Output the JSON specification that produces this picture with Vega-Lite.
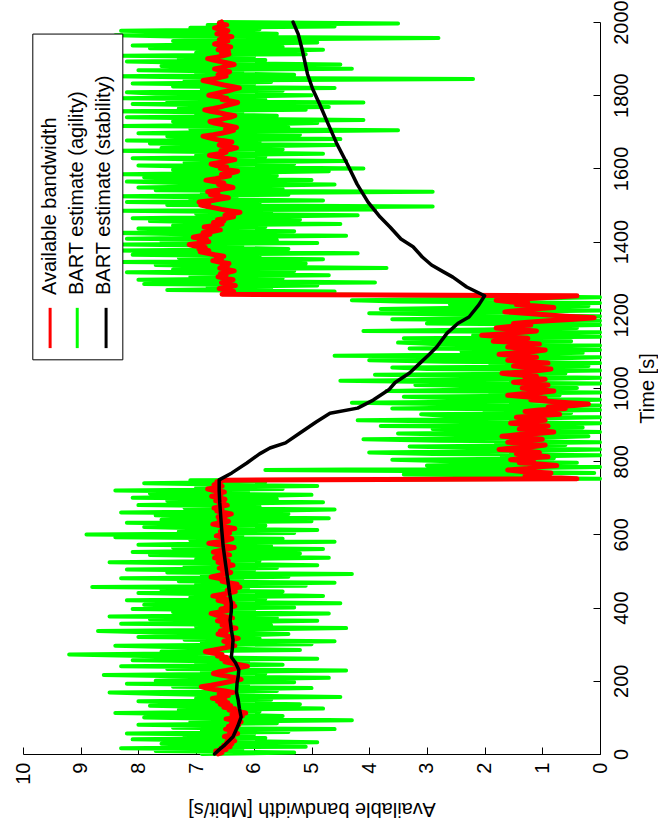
{
  "$schema": "https://vega.github.io/schema/vega-lite/v6.json",
  "width": 577,
  "height": 732,
  "autosize": {"type": "none"},
  "padding": {"left": 23, "top": 22, "right": 58, "bottom": 81},
  "config": {
    "view": {"stroke": null},
    "font": "Liberation Sans",
    "axis": {
      "grid": false,
      "domainColor": "#000000",
      "domainWidth": 1,
      "tickColor": "#000000",
      "tickWidth": 1,
      "labelColor": "#000000",
      "titleColor": "#000000",
      "labelFont": "Liberation Sans",
      "titleFont": "Liberation Sans",
      "labelFontSize": 20,
      "titleFontSize": 20,
      "titleFontWeight": "normal"
    }
  },
  "datasets": {
    "bw": [
      {"t":0,"r":6.62,"g":6.9},{"t":4,"r":6.55,"g":5.3},{"t":8,"r":6.66,"g":7.7},{"t":12,"r":6.48,"g":6.2},{"t":16,"r":6.57,"g":8.3},{"t":20,"r":6.41,"g":5.1},{"t":24,"r":6.52,"g":6.8},{"t":28,"r":6.38,"g":7.6},{"t":32,"r":6.47,"g":4.9},{"t":36,"r":6.33,"g":6.4},
      {"t":40,"r":6.45,"g":8.1},{"t":44,"r":6.36,"g":5.8},{"t":48,"r":6.51,"g":7.2},{"t":52,"r":6.4,"g":6.0},{"t":56,"r":6.28,"g":8.2},{"t":60,"r":6.42,"g":5.4},{"t":64,"r":6.35,"g":6.9},{"t":68,"r":6.49,"g":4.6},{"t":72,"r":6.3,"g":7.4},{"t":76,"r":6.44,"g":6.3},
      {"t":80,"r":6.26,"g":8.0},{"t":84,"r":6.39,"g":5.6},{"t":88,"r":6.22,"g":7.1},{"t":92,"r":6.36,"g":4.3},{"t":96,"r":6.48,"g":6.7},{"t":100,"r":6.31,"g":7.9},{"t":104,"r":6.2,"g":5.5},{"t":108,"r":6.38,"g":6.6},{"t":112,"r":6.14,"g":8.4},{"t":116,"r":6.29,"g":5.9},
      {"t":120,"r":6.43,"g":7.3},{"t":124,"r":6.33,"g":4.8},{"t":128,"r":6.52,"g":6.5},{"t":132,"r":6.4,"g":7.8},{"t":136,"r":6.58,"g":5.2},{"t":140,"r":6.45,"g":6.9},{"t":144,"r":6.63,"g":8.0},{"t":148,"r":6.5,"g":5.7},{"t":152,"r":6.72,"g":7.0},{"t":156,"r":6.56,"g":4.5},
      {"t":160,"r":6.44,"g":6.3},{"t":164,"r":6.6,"g":7.6},{"t":168,"r":6.36,"g":8.5},{"t":172,"r":6.5,"g":5.6},{"t":176,"r":6.68,"g":6.8},{"t":180,"r":6.82,"g":5.0},{"t":184,"r":6.91,"g":7.4},{"t":188,"r":6.74,"g":6.1},{"t":192,"r":6.6,"g":8.2},{"t":196,"r":6.47,"g":5.3},
      {"t":200,"r":6.35,"g":7.7},{"t":204,"r":6.22,"g":6.4},{"t":208,"r":6.3,"g":4.7},{"t":212,"r":6.44,"g":7.1},{"t":216,"r":6.58,"g":8.6},{"t":220,"r":6.7,"g":5.8},{"t":224,"r":6.62,"g":6.9},{"t":228,"r":6.48,"g":4.4},{"t":232,"r":6.36,"g":7.5},{"t":236,"r":6.24,"g":6.2},
      {"t":240,"r":6.11,"g":8.3},{"t":244,"r":6.25,"g":5.5},{"t":248,"r":6.38,"g":7.0},{"t":252,"r":6.5,"g":6.1},{"t":256,"r":6.42,"g":8.1},{"t":260,"r":6.56,"g":4.9},{"t":264,"r":6.47,"g":6.7},{"t":268,"r":6.63,"g":7.9},{"t":272,"r":6.55,"g":9.2},{"t":276,"r":6.72,"g":6.6},
      {"t":280,"r":6.84,"g":7.6},{"t":284,"r":6.69,"g":5.2},{"t":288,"r":6.57,"g":6.5},{"t":292,"r":6.44,"g":7.3},{"t":296,"r":6.33,"g":8.4},{"t":300,"r":6.46,"g":5.0},{"t":304,"r":6.38,"g":6.9},{"t":308,"r":6.52,"g":4.6},{"t":312,"r":6.4,"g":7.2},{"t":316,"r":6.27,"g":5.9},
      {"t":320,"r":6.39,"g":8.0},{"t":324,"r":6.51,"g":6.3},{"t":328,"r":6.62,"g":5.4},{"t":332,"r":6.48,"g":7.7},{"t":336,"r":6.58,"g":8.7},{"t":340,"r":6.42,"g":6.0},{"t":344,"r":6.31,"g":4.4},{"t":348,"r":6.45,"g":7.0},{"t":352,"r":6.55,"g":5.7},{"t":356,"r":6.41,"g":8.3},
      {"t":360,"r":6.5,"g":6.4},{"t":364,"r":6.63,"g":4.9},{"t":368,"r":6.49,"g":7.8},{"t":372,"r":6.37,"g":5.6},{"t":376,"r":6.52,"g":8.5},{"t":380,"r":6.66,"g":6.2},{"t":384,"r":6.74,"g":4.7},{"t":388,"r":6.59,"g":7.4},{"t":392,"r":6.45,"g":6.0},{"t":396,"r":6.57,"g":8.1},
      {"t":400,"r":6.43,"g":5.3},{"t":404,"r":6.33,"g":6.8},{"t":408,"r":6.48,"g":7.9},{"t":412,"r":6.36,"g":4.5},{"t":416,"r":6.51,"g":6.6},{"t":420,"r":6.62,"g":8.2},{"t":424,"r":6.47,"g":5.8},{"t":428,"r":6.58,"g":7.1},{"t":432,"r":6.71,"g":4.8},{"t":436,"r":6.56,"g":6.5},
      {"t":440,"r":6.44,"g":8.0},{"t":444,"r":6.32,"g":5.5},{"t":448,"r":6.46,"g":7.6},{"t":452,"r":6.37,"g":6.1},{"t":456,"r":6.24,"g":8.8},{"t":460,"r":6.38,"g":5.1},{"t":464,"r":6.29,"g":7.0},{"t":468,"r":6.43,"g":4.6},{"t":472,"r":6.55,"g":7.3},{"t":476,"r":6.46,"g":6.2},
      {"t":480,"r":6.61,"g":8.3},{"t":484,"r":6.74,"g":5.4},{"t":488,"r":6.62,"g":6.9},{"t":492,"r":6.5,"g":4.3},{"t":496,"r":6.4,"g":7.5},{"t":500,"r":6.54,"g":6.0},{"t":504,"r":6.45,"g":8.2},{"t":508,"r":6.6,"g":5.6},{"t":512,"r":6.49,"g":7.2},{"t":516,"r":6.36,"g":4.9},
      {"t":520,"r":6.5,"g":6.7},{"t":524,"r":6.62,"g":8.5},{"t":528,"r":6.44,"g":5.9},{"t":532,"r":6.57,"g":7.0},{"t":536,"r":6.68,"g":4.7},{"t":540,"r":6.55,"g":6.4},{"t":544,"r":6.42,"g":7.8},{"t":548,"r":6.56,"g":5.2},{"t":552,"r":6.7,"g":8.1},{"t":556,"r":6.58,"g":6.3},
      {"t":560,"r":6.45,"g":4.8},{"t":564,"r":6.34,"g":7.4},{"t":568,"r":6.48,"g":5.7},{"t":572,"r":6.64,"g":8.0},{"t":576,"r":6.78,"g":6.6},{"t":580,"r":6.6,"g":4.6},{"t":584,"r":6.47,"g":7.1},{"t":588,"r":6.38,"g":5.5},{"t":592,"r":6.52,"g":8.4},{"t":596,"r":6.65,"g":6.2},
      {"t":600,"r":6.55,"g":8.9},{"t":604,"r":6.42,"g":5.3},{"t":608,"r":6.58,"g":7.3},{"t":612,"r":6.47,"g":4.9},{"t":616,"r":6.33,"g":6.8},{"t":620,"r":6.46,"g":7.9},{"t":624,"r":6.59,"g":5.8},{"t":628,"r":6.71,"g":6.5},{"t":632,"r":6.57,"g":8.2},{"t":636,"r":6.44,"g":5.0},
      {"t":640,"r":6.6,"g":7.6},{"t":644,"r":6.5,"g":4.7},{"t":648,"r":6.62,"g":6.9},{"t":652,"r":6.48,"g":7.7},{"t":656,"r":6.39,"g":5.4},{"t":660,"r":6.52,"g":8.3},{"t":664,"r":6.64,"g":6.0},{"t":668,"r":6.55,"g":4.6},{"t":672,"r":6.69,"g":7.2},{"t":676,"r":6.58,"g":5.9},
      {"t":680,"r":6.46,"g":8.0},{"t":684,"r":6.6,"g":6.4},{"t":688,"r":6.52,"g":4.8},{"t":692,"r":6.66,"g":7.5},{"t":696,"r":6.5,"g":5.6},{"t":700,"r":6.62,"g":8.1},{"t":704,"r":6.73,"g":6.3},{"t":708,"r":6.57,"g":5.0},{"t":712,"r":6.65,"g":7.8},{"t":716,"r":6.51,"g":6.1},
      {"t":720,"r":6.68,"g":8.4},{"t":724,"r":6.8,"g":5.5},{"t":728,"r":6.63,"g":7.0},{"t":732,"r":6.55,"g":4.9},{"t":736,"r":6.69,"g":6.6},{"t":740,"r":6.58,"g":7.9},{"t":744,"r":6.64,"g":5.8},{"t":748,"r":6.52,"g":7.1},
      {"t":752,"r":0.4,"g":0.0},{"t":756,"r":0.95,"g":2.7},{"t":760,"r":1.3,"g":1.2},{"t":764,"r":1.05,"g":3.4},{"t":768,"r":0.85,"g":0.1},{"t":772,"r":1.35,"g":2.2},{"t":776,"r":1.6,"g":5.8},{"t":780,"r":1.25,"g":1.6},{"t":784,"r":1.1,"g":0.0},{"t":788,"r":0.75,"g":3.0},
      {"t":792,"r":1.0,"g":1.9},{"t":796,"r":1.4,"g":0.4},{"t":800,"r":1.15,"g":2.6},{"t":804,"r":1.55,"g":3.6},{"t":808,"r":1.3,"g":0.8},{"t":812,"r":0.9,"g":1.7},{"t":816,"r":1.2,"g":0.0},{"t":820,"r":1.45,"g":2.9},{"t":824,"r":1.05,"g":4.0},{"t":828,"r":1.3,"g":1.3},
      {"t":832,"r":1.75,"g":0.0},{"t":836,"r":1.5,"g":2.3},{"t":840,"r":1.15,"g":3.3},{"t":844,"r":0.95,"g":0.6},{"t":848,"r":1.25,"g":1.8},{"t":852,"r":1.6,"g":0.0},{"t":856,"r":1.35,"g":2.8},{"t":860,"r":1.0,"g":4.1},{"t":864,"r":1.3,"g":1.0},{"t":868,"r":1.7,"g":0.2},
      {"t":872,"r":1.45,"g":2.5},{"t":876,"r":1.1,"g":3.5},{"t":880,"r":0.8,"g":0.0},{"t":884,"r":1.05,"g":1.5},{"t":888,"r":1.4,"g":2.9},{"t":892,"r":1.2,"g":0.3},{"t":896,"r":0.9,"g":3.8},{"t":900,"r":1.25,"g":1.1},{"t":904,"r":1.55,"g":0.0},{"t":908,"r":1.3,"g":2.4},
      {"t":912,"r":0.95,"g":4.2},{"t":916,"r":1.2,"g":1.4},{"t":920,"r":1.45,"g":0.0},{"t":924,"r":1.1,"g":2.7},{"t":928,"r":0.7,"g":3.1},{"t":932,"r":0.95,"g":0.5},{"t":936,"r":1.3,"g":2.0},{"t":940,"r":1.05,"g":0.0},{"t":944,"r":0.6,"g":3.6},{"t":948,"r":0.9,"g":1.6},
      {"t":952,"r":0.45,"g":0.0},{"t":956,"r":0.2,"g":2.8},{"t":960,"r":0.55,"g":4.3},{"t":964,"r":0.9,"g":1.2},{"t":968,"r":1.2,"g":0.0},{"t":972,"r":0.95,"g":2.5},{"t":976,"r":1.3,"g":3.4},{"t":980,"r":1.6,"g":0.7},{"t":984,"r":1.35,"g":1.9},{"t":988,"r":1.0,"g":0.0},
      {"t":992,"r":0.8,"g":3.7},{"t":996,"r":1.15,"g":2.2},{"t":1000,"r":1.35,"g":0.4},{"t":1004,"r":1.05,"g":1.6},{"t":1008,"r":0.9,"g":3.2},{"t":1012,"r":1.25,"g":0.0},{"t":1016,"r":1.5,"g":2.6},{"t":1020,"r":1.2,"g":4.5},{"t":1024,"r":0.95,"g":1.3},{"t":1028,"r":1.3,"g":0.0},
      {"t":1032,"r":1.1,"g":2.1},{"t":1036,"r":1.45,"g":3.9},{"t":1040,"r":1.7,"g":0.6},{"t":1044,"r":1.35,"g":1.7},{"t":1048,"r":1.05,"g":0.0},{"t":1052,"r":0.85,"g":3.0},{"t":1056,"r":1.2,"g":3.6},{"t":1060,"r":1.5,"g":0.2},{"t":1064,"r":1.25,"g":1.9},{"t":1068,"r":0.9,"g":0.0},
      {"t":1072,"r":1.3,"g":2.7},{"t":1076,"r":1.6,"g":4.0},{"t":1080,"r":1.4,"g":1.0},{"t":1084,"r":1.1,"g":0.0},{"t":1088,"r":1.45,"g":4.6},{"t":1092,"r":1.75,"g":1.8},{"t":1096,"r":1.5,"g":0.3},{"t":1100,"r":1.15,"g":2.4},{"t":1104,"r":0.95,"g":0.0},{"t":1108,"r":1.3,"g":3.3},
      {"t":1112,"r":1.6,"g":1.5},{"t":1116,"r":1.35,"g":0.0},{"t":1120,"r":1.05,"g":2.9},{"t":1124,"r":1.4,"g":3.5},{"t":1128,"r":1.85,"g":0.5},{"t":1132,"r":1.55,"g":1.4},{"t":1136,"r":1.25,"g":3.4},{"t":1140,"r":1.7,"g":0.0},{"t":1144,"r":2.05,"g":2.2},{"t":1148,"r":1.65,"g":1.1},
      {"t":1152,"r":1.35,"g":0.0},{"t":1156,"r":1.1,"g":4.1},{"t":1160,"r":1.45,"g":2.0},{"t":1164,"r":1.8,"g":0.4},{"t":1168,"r":1.55,"g":1.7},{"t":1172,"r":1.2,"g":0.0},{"t":1176,"r":1.5,"g":3.0},{"t":1180,"r":1.25,"g":2.5},{"t":1184,"r":0.9,"g":0.0},{"t":1188,"r":0.45,"g":3.6},
      {"t":1192,"r":0.1,"g":1.2},{"t":1196,"r":0.6,"g":0.0},{"t":1200,"r":0.95,"g":2.3},{"t":1204,"r":1.3,"g":4.0},{"t":1208,"r":1.65,"g":1.5},{"t":1212,"r":1.4,"g":0.0},{"t":1216,"r":1.15,"g":3.8},{"t":1220,"r":0.8,"g":2.1},{"t":1224,"r":1.1,"g":0.2},{"t":1228,"r":1.45,"g":2.6},
      {"t":1232,"r":1.25,"g":0.0},{"t":1236,"r":1.6,"g":3.5},{"t":1240,"r":1.8,"g":4.3},{"t":1244,"r":1.3,"g":1.4},{"t":1248,"r":0.85,"g":0.0},{"t":1252,"r":0.4,"g":2.6},
      {"t":1256,"r":6.55,"g":5.2},{"t":1260,"r":6.42,"g":6.1},{"t":1264,"r":6.35,"g":4.6},{"t":1268,"r":6.48,"g":7.5},{"t":1272,"r":6.6,"g":5.7},{"t":1276,"r":6.45,"g":6.8},{"t":1280,"r":6.32,"g":4.9},{"t":1284,"r":6.44,"g":7.9},{"t":1288,"r":6.56,"g":3.9},{"t":1292,"r":6.47,"g":6.4},
      {"t":1296,"r":6.36,"g":8.0},{"t":1300,"r":6.5,"g":5.5},{"t":1304,"r":6.62,"g":7.1},{"t":1308,"r":6.48,"g":4.7},{"t":1312,"r":6.58,"g":6.6},{"t":1316,"r":6.44,"g":8.2},{"t":1320,"r":6.34,"g":5.3},{"t":1324,"r":6.47,"g":7.4},{"t":1328,"r":6.59,"g":3.7},{"t":1332,"r":6.46,"g":6.3},
      {"t":1336,"r":6.55,"g":7.7},{"t":1340,"r":6.43,"g":5.1},{"t":1344,"r":6.6,"g":8.3},{"t":1348,"r":6.71,"g":6.0},{"t":1352,"r":6.56,"g":4.8},{"t":1356,"r":6.65,"g":7.3},{"t":1360,"r":6.52,"g":5.9},{"t":1364,"r":6.68,"g":8.1},{"t":1368,"r":6.8,"g":4.2},{"t":1372,"r":6.93,"g":6.7},
      {"t":1376,"r":6.78,"g":8.4},{"t":1380,"r":6.95,"g":5.4},{"t":1384,"r":6.84,"g":7.0},{"t":1388,"r":7.02,"g":6.2},{"t":1392,"r":7.12,"g":8.3},{"t":1396,"r":6.9,"g":4.9},{"t":1400,"r":6.78,"g":7.6},{"t":1404,"r":6.95,"g":5.6},{"t":1408,"r":6.82,"g":8.2},{"t":1412,"r":7.05,"g":6.5},
      {"t":1416,"r":6.92,"g":4.4},{"t":1420,"r":6.76,"g":7.2},{"t":1424,"r":6.88,"g":8.6},{"t":1428,"r":6.7,"g":5.3},{"t":1432,"r":6.58,"g":6.9},{"t":1436,"r":6.74,"g":8.0},{"t":1440,"r":6.86,"g":5.8},{"t":1444,"r":6.68,"g":7.4},{"t":1448,"r":6.55,"g":4.5},{"t":1452,"r":6.7,"g":6.6},
      {"t":1456,"r":6.52,"g":7.8},{"t":1460,"r":6.63,"g":5.2},{"t":1464,"r":6.47,"g":8.1},{"t":1468,"r":6.35,"g":6.1},{"t":1472,"r":6.5,"g":4.2},{"t":1476,"r":6.38,"g":7.0},{"t":1480,"r":6.24,"g":5.7},{"t":1484,"r":6.4,"g":8.3},{"t":1488,"r":6.56,"g":3.9},{"t":1492,"r":6.68,"g":6.8},
      {"t":1496,"r":6.8,"g":2.9},{"t":1500,"r":6.92,"g":7.5},{"t":1504,"r":6.78,"g":5.9},{"t":1508,"r":6.95,"g":8.2},{"t":1512,"r":6.72,"g":4.8},{"t":1516,"r":6.58,"g":7.1},{"t":1520,"r":6.44,"g":6.3},{"t":1524,"r":6.6,"g":8.4},{"t":1528,"r":6.75,"g":5.4},{"t":1532,"r":6.62,"g":6.9},
      {"t":1536,"r":6.8,"g":2.9},{"t":1540,"r":6.66,"g":7.7},{"t":1544,"r":6.5,"g":5.5},{"t":1548,"r":6.36,"g":8.0},{"t":1552,"r":6.48,"g":6.4},{"t":1556,"r":6.61,"g":4.6},{"t":1560,"r":6.52,"g":7.3},{"t":1564,"r":6.7,"g":8.2},{"t":1568,"r":6.83,"g":5.0},{"t":1572,"r":6.66,"g":6.7},
      {"t":1576,"r":6.55,"g":7.9},{"t":1580,"r":6.42,"g":5.6},{"t":1584,"r":6.56,"g":8.3},{"t":1588,"r":6.38,"g":6.2},{"t":1592,"r":6.28,"g":4.7},{"t":1596,"r":6.44,"g":7.4},{"t":1600,"r":6.58,"g":4.1},{"t":1604,"r":6.47,"g":6.8},{"t":1608,"r":6.66,"g":8.0},{"t":1612,"r":6.74,"g":5.3},
      {"t":1616,"r":6.59,"g":7.2},{"t":1620,"r":6.45,"g":4.4},{"t":1624,"r":6.33,"g":6.9},{"t":1628,"r":6.5,"g":8.1},{"t":1632,"r":6.62,"g":5.8},{"t":1636,"r":6.77,"g":7.0},{"t":1640,"r":6.6,"g":4.8},{"t":1644,"r":6.48,"g":6.5},{"t":1648,"r":6.57,"g":8.4},{"t":1652,"r":6.4,"g":5.5},
      {"t":1656,"r":6.3,"g":7.6},{"t":1660,"r":6.46,"g":6.1},{"t":1664,"r":6.6,"g":4.6},{"t":1668,"r":6.49,"g":7.8},{"t":1672,"r":6.38,"g":5.9},{"t":1676,"r":6.55,"g":8.2},{"t":1680,"r":6.68,"g":4.5},{"t":1684,"r":6.79,"g":6.7},{"t":1688,"r":6.88,"g":7.5},{"t":1692,"r":6.7,"g":5.2},
      {"t":1696,"r":6.56,"g":8.0},{"t":1700,"r":6.44,"g":6.3},{"t":1704,"r":6.35,"g":3.5},{"t":1708,"r":6.49,"g":7.1},{"t":1712,"r":6.3,"g":5.4},{"t":1716,"r":6.42,"g":8.3},{"t":1720,"r":6.55,"g":6.0},{"t":1724,"r":6.68,"g":4.9},{"t":1728,"r":6.76,"g":7.4},{"t":1732,"r":6.6,"g":4.1},
      {"t":1736,"r":6.52,"g":6.8},{"t":1740,"r":6.4,"g":8.2},{"t":1744,"r":6.33,"g":5.6},{"t":1748,"r":6.48,"g":7.0},{"t":1752,"r":6.6,"g":6.2},{"t":1756,"r":6.75,"g":8.5},{"t":1760,"r":6.85,"g":5.1},{"t":1764,"r":6.7,"g":7.3},{"t":1768,"r":6.57,"g":4.7},{"t":1772,"r":6.49,"g":6.6},
      {"t":1776,"r":6.38,"g":8.1},{"t":1780,"r":6.28,"g":4.1},{"t":1784,"r":6.4,"g":7.5},{"t":1788,"r":6.55,"g":5.8},{"t":1792,"r":6.47,"g":8.3},{"t":1796,"r":6.62,"g":6.4},{"t":1800,"r":6.78,"g":5.0},{"t":1804,"r":6.66,"g":7.7},{"t":1808,"r":6.55,"g":8.2},{"t":1812,"r":6.44,"g":5.5},
      {"t":1816,"r":6.36,"g":6.9},{"t":1820,"r":6.25,"g":4.6},{"t":1824,"r":6.38,"g":7.4},{"t":1828,"r":6.52,"g":6.0},{"t":1832,"r":6.64,"g":8.1},{"t":1836,"r":6.75,"g":5.7},{"t":1840,"r":6.88,"g":7.2},{"t":1844,"r":6.71,"g":2.2},{"t":1848,"r":6.6,"g":6.8},{"t":1852,"r":6.48,"g":8.4},
      {"t":1856,"r":6.62,"g":5.3},{"t":1860,"r":6.5,"g":7.0},{"t":1864,"r":6.42,"g":6.2},{"t":1868,"r":6.58,"g":8.0},{"t":1872,"r":6.68,"g":4.3},{"t":1876,"r":6.55,"g":6.7},{"t":1880,"r":6.46,"g":7.6},{"t":1884,"r":6.34,"g":4.5},{"t":1888,"r":6.45,"g":6.9},{"t":1892,"r":6.58,"g":8.2},
      {"t":1896,"r":6.7,"g":5.8},{"t":1900,"r":6.8,"g":7.3},{"t":1904,"r":6.64,"g":6.0},{"t":1908,"r":6.52,"g":8.3},{"t":1912,"r":6.43,"g":5.1},{"t":1916,"r":6.56,"g":7.0},{"t":1920,"r":6.44,"g":6.4},{"t":1924,"r":6.62,"g":4.8},{"t":1928,"r":6.5,"g":7.8},{"t":1932,"r":6.4,"g":5.5},
      {"t":1936,"r":6.55,"g":8.1},{"t":1940,"r":6.68,"g":6.3},{"t":1944,"r":6.57,"g":4.9},{"t":1948,"r":6.45,"g":7.4},{"t":1952,"r":6.6,"g":6.1},{"t":1956,"r":6.5,"g":2.8},{"t":1960,"r":6.38,"g":7.2},{"t":1964,"r":6.52,"g":8.4},{"t":1968,"r":6.64,"g":5.6},{"t":1972,"r":6.54,"g":7.0},
      {"t":1976,"r":6.45,"g":8.3},{"t":1980,"r":6.58,"g":5.9},{"t":1984,"r":6.68,"g":7.1},{"t":1988,"r":6.55,"g":4.6},{"t":1992,"r":6.47,"g":6.8},{"t":1996,"r":6.6,"g":3.5},{"t":2000,"r":6.56,"g":6.6}
    ],
    "stab": [
      {"t":0,"b":6.68},{"t":12,"b":6.6},{"t":25,"b":6.5},{"t":47,"b":6.36},{"t":75,"b":6.28},{"t":101,"b":6.22},{"t":125,"b":6.25},{"t":147,"b":6.27},{"t":170,"b":6.3},{"t":194,"b":6.29},{"t":212,"b":6.27},{"t":230,"b":6.26},{"t":250,"b":6.32},{"t":265,"b":6.39},{"t":290,"b":6.37},{"t":312,"b":6.36},{"t":340,"b":6.39},{"t":366,"b":6.41},{"t":390,"b":6.39},{"t":412,"b":6.39},{"t":440,"b":6.42},{"t":475,"b":6.45},{"t":520,"b":6.49},{"t":566,"b":6.53},{"t":620,"b":6.56},{"t":686,"b":6.59},{"t":720,"b":6.6},{"t":749,"b":6.6},
      {"t":768,"b":6.38},{"t":795,"b":6.12},{"t":820,"b":5.9},{"t":836,"b":5.72},{"t":850,"b":5.45},{"t":877,"b":5.2},{"t":907,"b":4.92},{"t":931,"b":4.68},{"t":945,"b":4.2},{"t":967,"b":3.93},{"t":995,"b":3.66},{"t":1015,"b":3.55},{"t":1041,"b":3.3},{"t":1068,"b":3.12},{"t":1090,"b":2.97},{"t":1112,"b":2.83},{"t":1150,"b":2.65},{"t":1177,"b":2.46},{"t":1194,"b":2.27},{"t":1227,"b":2.1},{"t":1252,"b":2.0},
      {"t":1276,"b":2.31},{"t":1303,"b":2.55},{"t":1318,"b":2.72},{"t":1336,"b":2.92},{"t":1358,"b":3.08},{"t":1386,"b":3.24},{"t":1407,"b":3.45},{"t":1440,"b":3.64},{"t":1467,"b":3.81},{"t":1508,"b":4.02},{"t":1557,"b":4.21},{"t":1612,"b":4.38},{"t":1667,"b":4.56},{"t":1721,"b":4.71},{"t":1776,"b":4.86},{"t":1817,"b":4.98},{"t":1858,"b":5.07},{"t":1924,"b":5.16},{"t":1967,"b":5.23},{"t":2000,"b":5.32}
    ]
  },
  "encoding": {
    "y": {
      "type": "quantitative",
      "scale": {"domain": [0, 2000], "nice": false},
      "axis": {
        "orient": "right",
        "title": "Time [s]",
        "format": "d",
        "values": [0, 200, 400, 600, 800, 1000, 1200, 1400, 1600, 1800, 2000],
        "tickSize": -7,
        "labelAngle": 270,
        "labelAlign": "center",
        "labelBaseline": "top",
        "labelPadding": 18,
        "titleAngle": 270,
        "titleBaseline": "top",
        "titlePadding": 6
      }
    },
    "x": {
      "type": "quantitative",
      "scale": {"domain": [0, 10], "nice": false, "reverse": true},
      "axis": {
        "orient": "bottom",
        "title": "Available bandwidth [Mbit/s]",
        "values": [0, 1, 2, 3, 4, 5, 6, 7, 8, 9, 10],
        "tickSize": -7,
        "labelAngle": 270,
        "labelAlign": "right",
        "labelBaseline": "middle",
        "labelPadding": 15,
        "titleAngle": 180,
        "titleBaseline": "alphabetic",
        "titlePadding": 18
      }
    }
  },
  "layer": [
    {
      "data": {"name": "bw"},
      "mark": {"type": "line", "color": "#00FF00", "strokeWidth": 4, "strokeJoin": "round", "strokeCap": "round"},
      "encoding": {
        "x": {"field": "g", "type": "quantitative"},
        "y": {"field": "t", "type": "quantitative"},
        "order": {"field": "t", "type": "quantitative"}
      }
    },
    {
      "data": {"name": "bw"},
      "mark": {"type": "line", "color": "#FF0000", "strokeWidth": 5, "strokeJoin": "round", "strokeCap": "round"},
      "encoding": {
        "x": {"field": "r", "type": "quantitative"},
        "y": {"field": "t", "type": "quantitative"},
        "order": {"field": "t", "type": "quantitative"}
      }
    },
    {
      "data": {"name": "stab"},
      "mark": {"type": "line", "color": "#000000", "strokeWidth": 3.5, "strokeJoin": "round", "strokeCap": "round"},
      "encoding": {
        "x": {"field": "b", "type": "quantitative"},
        "y": {"field": "t", "type": "quantitative"},
        "order": {"field": "t", "type": "quantitative"}
      }
    },
    {
      "data": {"values": [{}]},
      "mark": {"type": "rect", "fill": "#FFFFFF", "stroke": "#000000", "strokeWidth": 1},
      "encoding": {
        "x": {"datum": 9.83},
        "x2": {"datum": 8.27},
        "y": {"datum": 1967},
        "y2": {"datum": 1077}
      }
    },
    {
      "data": {"values": [{}]},
      "mark": {"type": "rule", "color": "#FF0000", "strokeWidth": 3},
      "encoding": {"x": {"datum": 9.53}, "y": {"datum": 1219}, "y2": {"datum": 1109}}
    },
    {
      "data": {"values": [{}]},
      "mark": {"type": "rule", "color": "#00FF00", "strokeWidth": 3},
      "encoding": {"x": {"datum": 9.06}, "y": {"datum": 1219}, "y2": {"datum": 1109}}
    },
    {
      "data": {"values": [{}]},
      "mark": {"type": "rule", "color": "#000000", "strokeWidth": 3},
      "encoding": {"x": {"datum": 8.56}, "y": {"datum": 1219}, "y2": {"datum": 1109}}
    },
    {
      "data": {"values": [{}]},
      "mark": {"type": "text", "angle": 270, "align": "left", "baseline": "alphabetic", "fontSize": 20, "font": "Liberation Sans", "color": "#000000"},
      "encoding": {"x": {"datum": 9.42}, "y": {"datum": 1254}, "text": {"value": "Available bandwidth"}}
    },
    {
      "data": {"values": [{}]},
      "mark": {"type": "text", "angle": 270, "align": "left", "baseline": "alphabetic", "fontSize": 20, "font": "Liberation Sans", "color": "#000000"},
      "encoding": {"x": {"datum": 8.96}, "y": {"datum": 1254}, "text": {"value": "BART estimate (agility)"}}
    },
    {
      "data": {"values": [{}]},
      "mark": {"type": "text", "angle": 270, "align": "left", "baseline": "alphabetic", "fontSize": 20, "font": "Liberation Sans", "color": "#000000"},
      "encoding": {"x": {"datum": 8.49}, "y": {"datum": 1254}, "text": {"value": "BART estimate (stability)"}}
    }
  ]
}
